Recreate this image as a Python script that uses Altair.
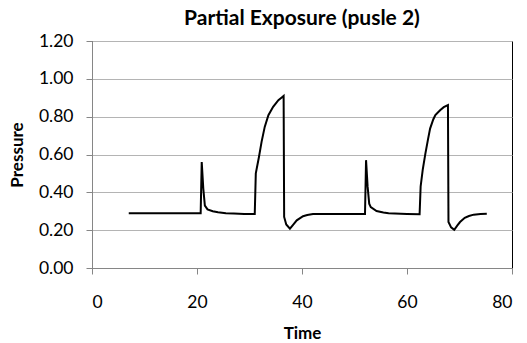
import altair as alt
import pandas as pd

time = [7.0, 10.0, 14.0, 18.0, 20.7, 20.9, 21.2, 21.5, 22.0, 23.0, 24.0, 25.5, 27.0, 29.0, 31.0,
        31.2, 31.8, 32.3, 32.9, 33.6, 34.5, 35.5, 36.2, 36.5, 36.6, 37.0, 37.7, 38.3, 39.0, 40.2, 41.0, 42.1,
        45.0, 48.0, 51.0, 52.0, 52.2, 52.5, 52.8, 53.1, 54.2, 55.5, 56.5, 60.0, 62.4,
        62.6, 63.0, 63.5, 64.0, 64.4, 65.0, 65.4, 66.3, 67.0, 67.8, 67.9, 68.4, 69.0, 69.6, 70.1,
        71.0, 71.8, 72.7, 74.0, 75.2]
pressure = [0.29, 0.29, 0.29, 0.29, 0.29, 0.56, 0.42, 0.33, 0.31, 0.30, 0.295, 0.29, 0.288, 0.285, 0.285,
            0.50, 0.587, 0.667, 0.746, 0.808, 0.852, 0.887, 0.903, 0.91, 0.27, 0.23, 0.208, 0.228, 0.252, 0.274, 0.28, 0.285,
            0.285, 0.285, 0.285, 0.285, 0.57, 0.43, 0.34, 0.322, 0.301, 0.293, 0.29, 0.286, 0.284,
            0.432, 0.52, 0.605, 0.68, 0.737, 0.785, 0.808, 0.834, 0.85, 0.861, 0.243, 0.215, 0.202, 0.225, 0.243,
            0.265, 0.275, 0.282, 0.285, 0.287]

df = pd.DataFrame({"Time": time, "Pressure": pressure, "order": list(range(len(time)))})

FONT = "Lato"

chart = alt.Chart(df).mark_line(color="black", strokeWidth=2).encode(
    x=alt.X("Time:Q", scale=alt.Scale(domain=[0, 80], nice=False),
            axis=alt.Axis(values=[0, 20, 40, 60, 80], grid=False, title="Time",
                          titleFontWeight="bold", titleFontSize=17, titlePadding=15,
                          labelFontSize=17.5, labelPadding=19, tickSize=6,
                          domainColor="#868686", tickColor="#868686", labelColor="black")),
    y=alt.Y("Pressure:Q", scale=alt.Scale(domain=[0, 1.2], nice=False),
            axis=alt.Axis(values=[0, 0.2, 0.4, 0.6, 0.8, 1.0, 1.2], format=".2f", grid=True,
                          gridColor="#b4b4b4", title="Pressure",
                          titleFontWeight="bold", titleFontSize=17, titlePadding=12,
                          labelFontSize=17.5, labelPadding=13, tickSize=6,
                          domainColor="#868686", tickColor="#868686", labelColor="black")),
    order="order:Q",
).properties(
    width=420, height=227,
    title=alt.TitleParams("Partial Exposure (pusle 2)", fontSize=21, fontWeight="bold",
                          font=FONT, anchor="middle", offset=3, color="black"),
    autosize=alt.AutoSizeParams(type="none"),
    padding={"left": 92, "top": 41, "right": 15, "bottom": 75},
).configure_view(stroke="black", strokeWidth=1).configure_axis(
    labelFont=FONT, titleFont=FONT
)

chart.save("out.html", embed_options={"renderer": "svg", "actions": False})
